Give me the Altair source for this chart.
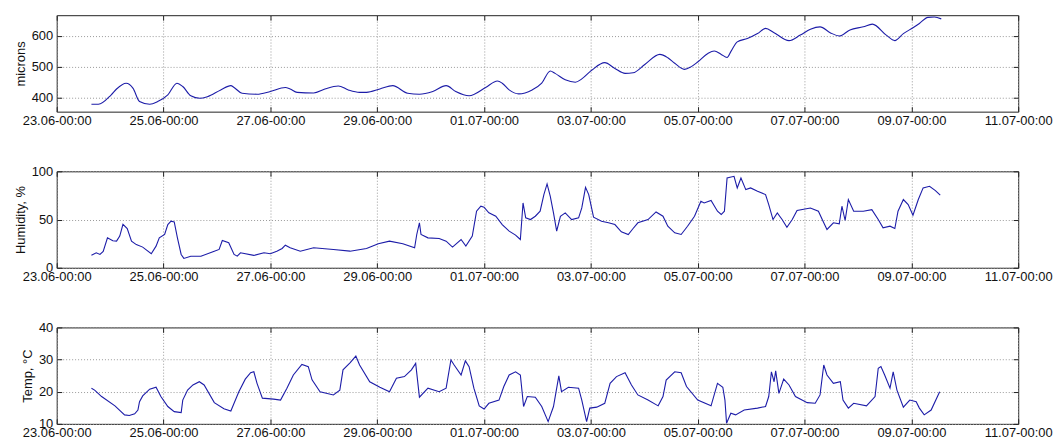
import altair as alt
import pandas as pd

# days since 23.06 00:00
micron_days = [0.65, 0.78, 1.02, 1.12, 1.30, 1.43, 1.55, 1.74, 1.89, 2.08, 2.25, 2.36, 2.51, 2.68, 2.82,
               3.07, 3.26, 3.32, 3.47, 3.75, 4.00, 4.28, 4.37, 4.50, 4.81, 5.02, 5.27, 5.46, 5.67, 5.80,
               6.05, 6.29, 6.57, 6.79, 7.04, 7.29, 7.47, 7.72, 8.03, 8.25, 8.34, 8.47, 8.65, 8.90, 9.08,
               9.24, 9.33, 9.52, 9.71, 9.83, 10.02, 10.26, 10.45, 10.64, 10.79, 11.01, 11.29, 11.44,
               11.57, 11.75, 11.88, 12.00, 12.19, 12.31, 12.44, 12.55, 12.62, 12.74, 12.93, 13.12,
               13.27, 13.43, 13.71, 13.92, 14.11, 14.29, 14.48, 14.65, 14.85, 15.10, 15.27, 15.53,
               15.69, 15.85, 16.03, 16.15, 16.31, 16.43, 16.56]
micron_vals = [377, 377, 408, 427, 446, 429, 386, 377, 386, 408, 446, 435, 405, 397, 402,
               424, 438, 432, 413, 410, 419, 432, 427, 416, 414, 427, 437, 424, 416, 416,
               427, 438, 413, 410, 419, 438, 419, 405, 432, 453, 446, 424, 411, 424, 446,
               486, 478, 457, 449, 460, 489, 513, 494, 478, 480, 507, 540, 529,
               511, 491, 500, 515, 543, 551, 540, 530, 549, 581, 592, 608,
               625, 611, 585, 603, 622, 630, 611, 600, 620, 630, 639, 603,
               585, 608, 627, 641, 661, 662, 656]

hum_days = [0.65, 0.74, 0.81, 0.87, 0.95, 1.05, 1.12, 1.18, 1.24, 1.32, 1.40, 1.49, 1.61, 1.77, 1.86,
            1.92, 2.02, 2.08, 2.14, 2.20, 2.26, 2.33, 2.38, 2.51, 2.70, 2.95, 3.04, 3.10, 3.22, 3.32,
            3.38, 3.44, 3.69, 3.88, 4.00, 4.12, 4.22, 4.28, 4.37, 4.56, 4.81, 5.18, 5.49, 5.80, 6.02,
            6.23, 6.48, 6.70, 6.74, 6.79, 6.82, 6.95, 7.16, 7.29, 7.41, 7.57, 7.66, 7.78, 7.86, 7.94,
            8.00, 8.09, 8.22, 8.34, 8.47, 8.59, 8.68, 8.73, 8.78, 8.87, 8.96, 9.05, 9.12, 9.18, 9.24,
            9.30, 9.36, 9.43, 9.52, 9.64, 9.77, 9.83, 9.90, 9.96, 10.05, 10.20, 10.33, 10.45, 10.57,
            10.70, 10.79, 10.88, 11.07, 11.22, 11.35, 11.44, 11.57, 11.69, 11.81, 11.94, 12.06, 12.12,
            12.25, 12.37, 12.44, 12.50, 12.55, 12.68, 12.74, 12.81, 12.90, 12.99, 13.12, 13.27, 13.33,
            13.41, 13.49, 13.58, 13.67, 13.77, 13.86, 14.11, 14.26, 14.36, 14.42, 14.54, 14.65, 14.70,
            14.76, 14.82, 14.92, 15.10, 15.26, 15.38, 15.47, 15.60, 15.69, 15.75, 15.85, 15.94, 16.03,
            16.13, 16.22, 16.34, 16.45, 16.54]
hum_vals = [13, 15.5, 13.8, 17, 31, 28, 27.6, 32.8, 45, 40.7, 27.6, 24, 21.4, 14.5, 22.4,
            31, 34.5, 44.8, 48.3, 47.6, 31, 13.8, 9.7, 12, 12, 17.2, 19, 28.3, 25.9, 13.8,
            12, 15.5, 12.8, 15.5, 14.5, 17.2, 20, 23.4, 20.7, 17.2, 20.7, 19, 17.2, 20, 24.8,
            27.6, 24.8, 20.7, 34.5, 46.6, 34.5, 31, 30.3, 27.6, 21.4, 29.3, 22.4, 32.8, 58.6, 63.8,
            62.8, 57, 53.4, 44.8, 38, 33.8, 29.3, 67.2, 51.7, 50, 53.4, 58.6, 75.9, 86.9, 74,
            56.9, 38, 53.4, 56.9, 50, 51.7, 62, 83.4, 75.9, 52.4, 48.3, 46.6, 44.8, 37.2,
            34.5, 40.7, 46.6, 50, 57.9, 53.4, 43.1, 36.2, 34.5, 43, 53.4, 69, 67.2,
            69.7, 58.6, 55.2, 58.6, 93, 94.8, 82.8, 93, 81, 82.8, 79.3, 75.9, 65.5,
            50, 56.9, 50, 42, 50, 59.3, 62, 58.6, 46.6, 39.7, 46.6, 45.5, 63.8,
            49, 70.7, 58.6, 58.6, 60.3, 50, 41.4, 43.1, 40.7, 58.6, 70.7, 65.5, 54.5,
            70.7, 82.8, 84.5, 80, 75.2]

temp_days = [0.65, 0.71, 0.84, 1.09, 1.27, 1.36, 1.46, 1.52, 1.55, 1.61, 1.74, 1.86, 1.95, 2.08, 2.20,
             2.33, 2.36, 2.45, 2.55, 2.67, 2.76, 2.95, 3.13, 3.26, 3.32, 3.41, 3.53, 3.63, 3.69, 3.75,
             3.85, 4.06, 4.19, 4.31, 4.43, 4.59, 4.71, 4.78, 4.93, 5.18, 5.30, 5.36, 5.49, 5.60, 5.67,
             5.86, 6.05, 6.23, 6.36, 6.51, 6.64, 6.72, 6.79, 6.95, 7.16, 7.29, 7.38, 7.44, 7.57, 7.65,
             7.72, 7.81, 7.91, 8.00, 8.09, 8.28, 8.37, 8.47, 8.59, 8.68, 8.74, 8.81, 8.96, 9.08, 9.20,
             9.30, 9.40, 9.45, 9.58, 9.77, 9.83, 9.92, 9.98, 10.11, 10.26, 10.36, 10.48, 10.64, 10.76,
             10.88, 11.07, 11.26, 11.35, 11.41, 11.57, 11.69, 11.79, 12.00, 12.25, 12.37, 12.47, 12.51,
             12.54, 12.62, 12.71, 12.87, 13.12, 13.27, 13.33, 13.38, 13.43, 13.46, 13.52, 13.61, 13.71,
             13.83, 14.05, 14.20, 14.29, 14.36, 14.42, 14.54, 14.67, 14.72, 14.82, 14.92, 15.16, 15.32,
             15.38, 15.43, 15.50, 15.60, 15.66, 15.73, 15.85, 15.97, 16.09, 16.15, 16.24, 16.37, 16.53]
temp_vals = [21.1, 20.5, 18.5, 15.6, 12.8, 12.6, 13.1, 14.3, 16.9, 18.7, 20.8, 21.4, 18.5, 15.4, 13.8,
             13.5, 17.4, 20.5, 22.1, 23.1, 22.1, 16.6, 14.7, 14.0, 16.4, 20.0, 23.9, 25.9, 26.2, 22.6,
             18.0, 17.7, 17.4, 21.1, 25.2, 28.5, 27.8, 23.7, 20.0, 19.0, 20.5, 26.8, 29.0, 31.1, 28.3,
             23.1, 21.4, 20.0, 24.2, 24.7, 26.8, 28.8, 18.3, 21.1, 20.0, 21.1, 29.9, 28.3, 25.2, 29.6,
             27.8, 21.1, 15.6, 14.6, 16.4, 17.4, 21.6, 25.2, 26.2, 25.2, 15.4, 18.5, 18.3, 15.4, 10.7,
             15.4, 24.9, 20.0, 21.4, 21.1, 17.4, 10.7, 14.9, 15.2, 16.4, 22.6, 24.7, 25.9, 22.1,
             19.0, 17.4, 15.6, 18.5, 23.6, 26.2, 25.9, 21.6, 17.4, 15.6, 22.6, 21.4, 17.4,
             10.2, 13.3, 12.8, 14.3, 14.9, 15.4, 18.5, 26.2, 23.1, 26.5, 19.5, 23.9, 22.1,
             18.5, 16.6, 16.4, 19.0, 28.3, 25.2, 22.6, 23.1, 17.4, 14.9, 16.4, 15.6, 18.5,
             27.3, 27.8, 25.2, 21.1, 26.2, 20.5, 15.2, 17.4, 16.9, 14.9, 12.8, 14.3, 20.0]

x_tick_dates = [(6, 23), (6, 25), (6, 27), (6, 29), (7, 1), (7, 3), (7, 5), (7, 7), (7, 9), (7, 11)]

BASE = pd.Timestamp("2013-06-23 00:00")
FONT = "Liberation Sans"
LINE = "#1c1ca8"
W, H = 967, 97


def frame(days, vals):
    t = [BASE + pd.Timedelta(minutes=round(d * 1440)) for d in days]
    return pd.DataFrame({"time": t, "v": vals})


tick_vals = [alt.DateTime(year=2013, month=m, date=d) for m, d in x_tick_dates]
xscale = alt.Scale(domain=[tick_vals[0], tick_vals[-1]])


def panel(df, title, ydom, yvals, interp="linear"):
    yscale = alt.Scale(domain=ydom, nice=False, zero=False)
    bottom = alt.Axis(orient="bottom", values=tick_vals, format="%d.%m-%H:%M", title=None,
                      labelFont=FONT, labelFontSize=13, labelColor="#111", labelFlush=False,
                      labelOverlap=False, labelPadding=3, tickSize=5, offset=-5, domain=False,
                      tickColor="#222", grid=True, gridColor="#999", gridDash=[1, 2])
    top = alt.Axis(orient="top", values=tick_vals, labels=False, title=None, tickSize=5, offset=-5,
                   domain=False, tickColor="#222", grid=False)
    left = alt.Axis(orient="left", values=yvals, title=title, titleFont=FONT, titleFontSize=13,
                    titleFontWeight="normal", titleColor="#111", titlePadding=4,
                    labelFont=FONT, labelFontSize=13, labelColor="#111", labelFlush=False,
                    labelPadding=4, tickSize=5, offset=-5, domain=False, tickColor="#222",
                    grid=True, gridColor="#999", gridDash=[1, 2])
    right = alt.Axis(orient="right", values=yvals, labels=False, title=None, tickSize=5, offset=-5,
                     domain=False, tickColor="#222", grid=False)
    line = alt.Chart(df).mark_line(color=LINE, strokeWidth=1.1, interpolate=interp).encode(
        x=alt.X("time:T", scale=xscale, axis=bottom),
        y=alt.Y("v:Q", scale=yscale, axis=left),
    )
    ghost = alt.Chart(df).mark_line(opacity=0).encode(
        x=alt.X("time:T", scale=xscale, axis=top),
        y=alt.Y("v:Q", scale=yscale, axis=right),
    )
    return alt.layer(line, ghost).resolve_axis(x="independent", y="independent").properties(
        width=W, height=H, view=alt.ViewBackground(stroke="#222", strokeWidth=1, fill="white"))


p1 = panel(frame(micron_days, micron_vals), "microns", [353, 668], [400, 500, 600], "monotone")
p2 = panel(frame(hum_days, hum_vals), "Humidity, %", [0, 100], [0, 50, 100])
p3 = panel(frame(temp_days, temp_vals), "Temp, °C", [10, 40], [10, 20, 30, 40])

chart = alt.vconcat(p1, p2, p3, spacing=36).properties(
    padding={"left": 5, "top": 5, "right": 0, "bottom": 0}
).configure_view(stroke="#222", strokeWidth=1).configure(background="white")

chart.save("out.html", embed_options={"renderer": "svg", "actions": False})
